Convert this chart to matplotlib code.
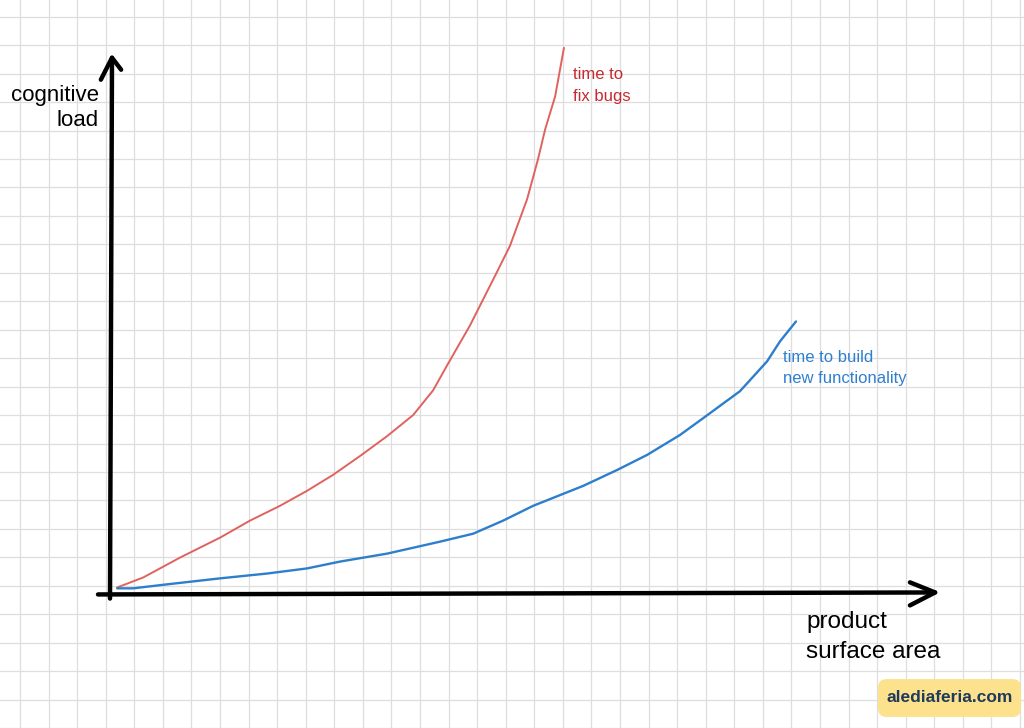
import numpy as np
import matplotlib
matplotlib.use("Agg")
import matplotlib.pyplot as plt
from matplotlib.patches import FancyBboxPatch

# ---- data (in grid-cell units, origin at the axes crossing) ----
bugs_x = [0.25, 1.16, 2.45, 3.85, 4.90, 5.95, 6.90, 7.81, 8.75, 9.70, 10.61,
          11.31, 11.80, 12.60, 13.55, 14.00, 14.60, 14.98, 15.23, 15.58, 15.89]
bugs_y = [0.21, 0.56, 1.26, 1.96, 2.56, 3.08, 3.61, 4.17, 4.83, 5.53, 6.27,
          7.14, 8.02, 9.42, 11.31, 12.22, 13.86, 15.26, 16.31, 17.47, 19.18]

build_x = [0.25, 0.81, 2.00, 3.85, 5.50, 6.90, 8.05, 9.70, 11.55, 12.71, 13.76,
           14.81, 15.51, 16.56, 17.75, 18.80, 19.95, 20.76, 22.05, 23.00, 23.45, 24.01]
build_y = [0.18, 0.18, 0.32, 0.53, 0.70, 0.88, 1.12, 1.40, 1.82, 2.10, 2.56,
           3.08, 3.36, 3.78, 4.34, 4.87, 5.57, 6.16, 7.11, 8.16, 8.86, 9.56]

y_label_lines = ["cognitive", "load"]
x_label_lines = ["product", "surface area"]
bugs_label = ["time to", "fix bugs"]
build_label = ["time to build", "new functionality"]
watermark = "alediaferia.com"

# ---- figure ----
W, H, DPI = 1024, 728, 100
CELL = 28.57
OX, OY = 110, 596
fig = plt.figure(figsize=(W / DPI, H / DPI), dpi=DPI)
ax = fig.add_axes([0, 0, 1, 1])
ax.set_xlim(-OX / CELL, (W - OX) / CELL)
ax.set_ylim(-(H - OY) / CELL, OY / CELL)

for s in ax.spines.values():
    s.set_visible(False)
ax.set_xticks(np.arange(-3.15, 32.5, 1.0))
ax.set_yticks(np.arange(-4.73, 21.0, 1.0))
ax.tick_params(length=0, labelbottom=False, labelleft=False)
ax.grid(True, color="#dedede", linewidth=0.9)
ax.set_axisbelow(True)

FONT = "Liberation Sans"

# curves
ax.plot(bugs_x, bugs_y, color="#e0625f", lw=1.4, solid_capstyle="round",
        solid_joinstyle="round", zorder=3)
ax.plot(build_x, build_y, color="#2d7fcc", lw=1.7, solid_capstyle="round",
        solid_joinstyle="round", zorder=3)

# hand-drawn axes with open arrowheads
ak = dict(color="black", lw=3.2, solid_capstyle="round", solid_joinstyle="round", zorder=4)
ax.plot([0.0, 0.07], [-0.18, 18.83], **ak)
ax.plot([-0.32, 0.07, 0.39], [18.06, 18.83, 18.41], **ak)
ax.plot([-0.42, 28.88], [-0.035, 0.035], **ak)
ax.plot([28.0, 28.88, 28.0], [0.39, 0.035, -0.42], **ak)

def px2d(px, py):
    return (px - OX) / CELL, (OY - py) / CELL

# axis labels
for txt, by in zip(y_label_lines, [101, 127]):
    ax.text(*px2d(99, by), txt, ha="right", va="baseline", fontsize=16,
            family=FONT, color="black", zorder=5)
for txt, by in zip(x_label_lines, [631, 661]):
    ax.text(*px2d(806, by), txt, ha="left", va="baseline", fontsize=17.5,
            family=FONT, color="black", zorder=5)

# curve labels
for txt, cy in zip(bugs_label, [75, 97]):
    ax.text(*px2d(573, cy), txt, ha="left", va="center", fontsize=12,
            family=FONT, color="#c42a30", zorder=5)
for txt, cy in zip(build_label, [359, 380]):
    ax.text(*px2d(783, cy), txt, ha="left", va="center", fontsize=12,
            family=FONT, color="#2f7fcf", zorder=5)

# watermark
x0, y0 = px2d(878, 720)
x1, y1 = px2d(1021, 682)
box = FancyBboxPatch((x0, y0), x1 - x0, y1 - y0,
                     boxstyle="round,pad=0,rounding_size=0.3",
                     fc="#fce28c", ec="none", zorder=5)
ax.add_patch(box)
ax.text((x0 + x1) / 2, (y0 + y1) / 2, watermark, ha="center", va="center",
        fontsize=12.5, fontweight="bold", family=FONT, color="#1f3a5a", zorder=6)

fig.savefig("out.png", dpi=DPI, facecolor="white")
